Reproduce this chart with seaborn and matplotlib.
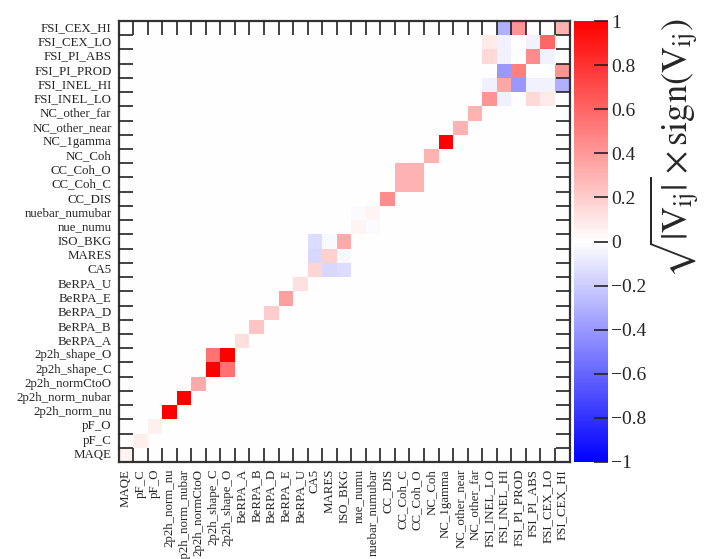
import numpy as np
import pandas as pd
import seaborn as sns
import matplotlib.pyplot as plt

params = ['MAQE', 'pF_C', 'pF_O', '2p2h_norm_nu', '2p2h_norm_nubar', '2p2h_normCtoO',
          '2p2h_shape_C', '2p2h_shape_O', 'BeRPA_A', 'BeRPA_B', 'BeRPA_D', 'BeRPA_E',
          'BeRPA_U', 'CA5', 'MARES', 'ISO_BKG', 'nue_numu', 'nuebar_numubar', 'CC_DIS',
          'CC_Coh_C', 'CC_Coh_O', 'NC_Coh', 'NC_1gamma', 'NC_other_near', 'NC_other_far',
          'FSI_INEL_LO', 'FSI_INEL_HI', 'FSI_PI_PROD', 'FSI_PI_ABS', 'FSI_CEX_LO', 'FSI_CEX_HI']

# sqrt|V_ii| on the diagonal
diag = [0.05, 0.07, 0.06, 1.0, 1.0, 0.33, 1.0, 1.0, 0.13, 0.23, 0.20, 0.37,
        0.12, 0.17, 0.18, 0.33, 0.04, 0.04, 0.45, 0.30, 0.30, 0.30, 1.0, 0.30, 0.30,
        0.42, 0.35, 0.50, 0.45, 0.60, 0.30]

# off-diagonal entries (symmetric)
off_a = ['2p2h_shape_C', 'CA5', 'CA5', 'MARES', 'nue_numu', 'CC_Coh_C',
         'FSI_INEL_LO', 'FSI_INEL_LO', 'FSI_INEL_LO', 'FSI_INEL_HI', 'FSI_INEL_HI',
         'FSI_INEL_HI', 'FSI_INEL_HI', 'FSI_PI_PROD', 'FSI_PI_ABS']
off_b = ['2p2h_shape_O', 'MARES', 'ISO_BKG', 'ISO_BKG', 'nuebar_numubar', 'CC_Coh_O',
         'FSI_INEL_HI', 'FSI_PI_ABS', 'FSI_CEX_LO', 'FSI_PI_PROD', 'FSI_PI_ABS',
         'FSI_CEX_LO', 'FSI_CEX_HI', 'FSI_CEX_HI', 'FSI_CEX_LO']
off_val = [0.55, -0.15, -0.14, -0.03, -0.02, 0.30,
           -0.06, 0.15, 0.08, -0.40, -0.05,
           -0.05, -0.31, 0.42, -0.05]

mat = pd.DataFrame(np.diag(diag), index=params, columns=params)
for a, b, v in zip(off_a, off_b, off_val):
    mat.loc[a, b] = v
    mat.loc[b, a] = v
mat = mat.iloc[::-1]  # MAQE at the bottom

sns.set_theme(style='white')
plt.rcParams['font.family'] = ['Liberation Serif', 'DejaVu Serif']
plt.rcParams['mathtext.fontset'] = 'stix'
plt.rcParams['axes.axisbelow'] = False

fig = plt.figure(figsize=(7.12, 5.59), dpi=100)
ax = fig.add_axes([118.5 / 712, 1 - 462 / 559, 451 / 712, 441 / 559])
cax = fig.add_axes([574 / 712, 1 - 462 / 559, 34 / 712, 441 / 559])

sns.heatmap(mat, ax=ax, cbar_ax=cax, cmap='bwr', vmin=-1, vmax=1,
            xticklabels=True, yticklabels=True)

ax.set_xticklabels(params, rotation=90, fontsize=9.3)
ax.set_yticklabels(params[::-1], rotation=0, fontsize=9.3)
ax.tick_params(which='major', length=0, pad=5)
ax.set_xticks(np.arange(1, len(params)), minor=True)
ax.set_yticks(np.arange(1, len(params)), minor=True)
ax.tick_params(which='minor', direction='in', length=10, width=1.2, color='#222222',
               top=True, bottom=True, left=True, right=True)
ax.set_axisbelow(False)
ax.set_xlabel('')
ax.set_ylabel('')
for s in ax.spines.values():
    s.set_visible(True)
    s.set_linewidth(1.6)
    s.set_color('#333333')

cticks = [-1, -0.8, -0.6, -0.4, -0.2, 0, 0.2, 0.4, 0.6, 0.8, 1]
cax.set_axisbelow(False)
cax.set_yticks(cticks)
cax.set_yticklabels(['\u22121', '\u22120.8', '\u22120.6', '\u22120.4', '\u22120.2', '0',
                     '0.2', '0.4', '0.6', '0.8', '1'], fontsize=14)
cax.tick_params(axis='y', direction='in', length=10, width=1.2, color='#222222',
                right=True, left=False, pad=2)
cax.minorticks_off()

fig.text(674 / 712, 1 - 18 / 559,
         r'$\sqrt{|\mathrm{V}_{\mathrm{ij}}|}\times\mathrm{sign}(\mathrm{V}_{\mathrm{ij}})$',
         rotation=90, ha='center', va='top', fontsize=26)

fig.savefig('out.png', dpi=100)
